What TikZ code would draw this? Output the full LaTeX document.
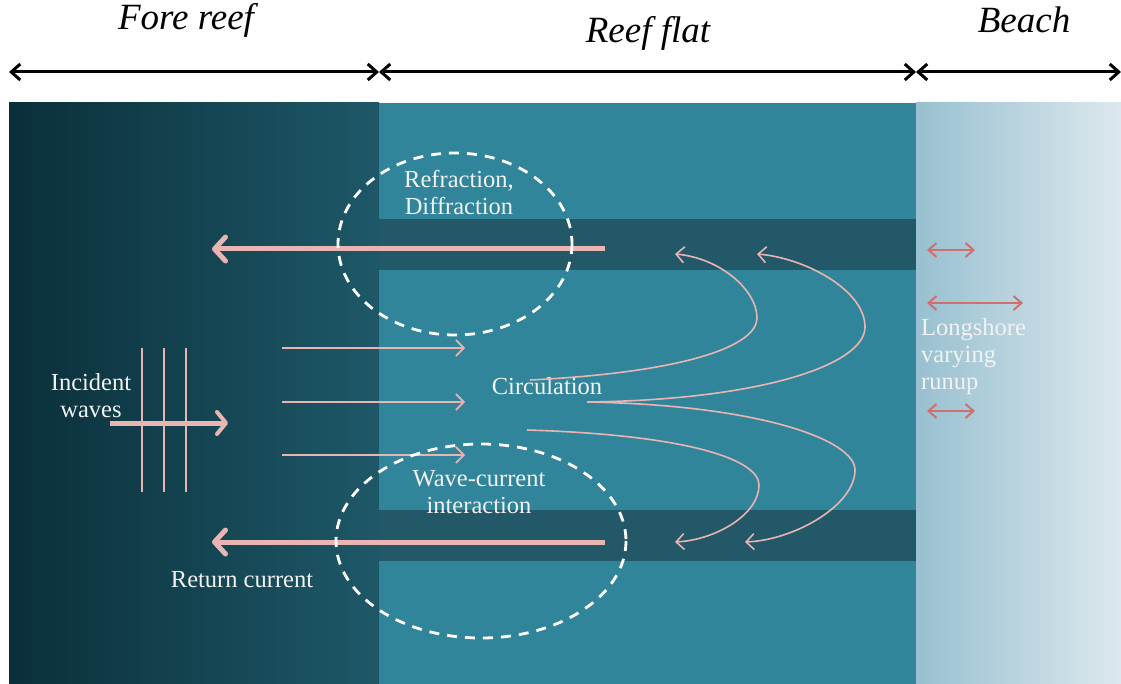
\documentclass[tikz,border=0pt]{standalone}
\usepackage{fontspec}
\setmainfont{Liberation Serif}
\usetikzlibrary{arrows.meta}
\definecolor{foreL}{HTML}{0A2F3A}
\definecolor{foreR}{HTML}{1E5868}
\definecolor{flat}{HTML}{31859B}
\definecolor{chan}{HTML}{225868}
\definecolor{beachL}{HTML}{98C0D0}
\definecolor{beachR}{HTML}{DDE8EE}
\definecolor{pinkA}{HTML}{E8B5B3}
\definecolor{redA}{HTML}{D0706E}
\definecolor{txt}{HTML}{F2F2F2}
\tikzset{
  zone/.style={line width=3pt,draw=black,{Straight Barb[length=9pt,width=16pt,line width=3pt]}-{Straight Barb[length=9pt,width=16pt,line width=3pt]}},
  zonelabel/.style={font=\fontsize{37}{40}\selectfont\itshape,text=black,inner sep=0pt},
  lbl/.style={font=\fontsize{24.5}{27}\selectfont,text=txt,align=center,inner sep=0pt},
  thickarr/.style={draw=pinkA,line width=5pt,-{Straight Barb[length=11pt,width=24pt,line width=5pt,round]}},
  thinarr/.style={draw=pinkA,line width=1.6pt,-{Straight Barb[length=8pt,width=16pt,line width=1.6pt]}},
  curvearr/.style={draw=pinkA,line width=1.6pt,-{Straight Barb[length=8pt,width=16pt,line width=1.6pt]}},
  wavecrest/.style={draw=pinkA,line width=1.7pt},
  runarr/.style={draw=redA,line width=2pt,{Straight Barb[length=8pt,width=14pt,line width=2pt]}-{Straight Barb[length=8pt,width=14pt,line width=2pt]}},
  zoneell/.style={draw=white,line width=2.8pt,dash pattern=on 10pt off 8pt}
}
\begin{document}
\begin{tikzpicture}[x=1pt,y=-1pt]
\useasboundingbox (0,0) rectangle (1121,684);
\fill[white] (0,0) rectangle (1121,684);
% zones
\shade[left color=foreL,right color=foreR] (9,103) rectangle (379,684);
\fill[flat] (379,103) rectangle (916,684);
\shade[left color=beachL,right color=beachR] (916,103) rectangle (1121,684);
% channels
\fill[chan] (379,219) rectangle (916,270);
\fill[chan] (379,510) rectangle (916,561);
% zone arrows
\coordinate (z0) at (9,72);
\coordinate (z1) at (379,72);
\coordinate (z2) at (916,72);
\coordinate (z3) at (1121,72);
\draw[zone] (z0) -- (z1);
\draw[zone] (z1) -- (z2);
\draw[zone] (z2) -- (z3);
\node[zonelabel] (fore) at (186,20) {Fore reef};
\node[zonelabel] (flatl) at (648,33) {Reef flat};
\node[zonelabel] (beach) at (1024,20) {Beach};
% incident waves
\foreach \xx/\nm in {142/c1,164/c2,186/c3}{
  \coordinate (\nm t) at (\xx,348);
  \coordinate (\nm b) at (\xx,492);
  \draw[wavecrest] (\nm t) -- (\nm b);
}
\coordinate (incS) at (110,423);
\coordinate (incE) at (228,423);
\draw[draw=pinkA,line width=5pt,-{Straight Barb[length=9pt,width=22pt,line width=4pt,round]}] (incS) -- (incE);
\node[lbl] (inc) at (91,396) {Incident\\waves};
% thin arrows
\foreach \yy/\nm in {348/t1,402/t2,455/t3}{
  \coordinate (\nm s) at (282,\yy);
  \coordinate (\nm e) at (465,\yy);
  \draw[thinarr] (\nm s) -- (\nm e);
}
% return currents
\coordinate (r1s) at (605,249);
\coordinate (r1e) at (212,249);
\coordinate (r2s) at (605,542);
\coordinate (r2e) at (212,542);
\draw[thickarr] (r1s) -- (r1e);
\draw[thickarr] (r2s) -- (r2e);
\node[lbl] (ret) at (242,580) {Return current};
% ellipses
\draw[zoneell] (455,244) ellipse [x radius=117,y radius=91];
\draw[zoneell] (481,541) ellipse [x radius=145,y radius=97];
\node[lbl] (refr) at (459,192) {Refraction,\\Diffraction};
\node[lbl] (wci) at (479,492) {Wave-current\\interaction};
\node[lbl] (circ) at (547,386) {Circulation};
% circulation curves
\coordinate (ca) at (530,380);
\coordinate (cb) at (587,402);
\coordinate (cd) at (527,430);
\coordinate (ea) at (675,254);
\coordinate (eb) at (757,254);
\coordinate (ec) at (745,542);
\coordinate (ed) at (675,542);
\draw[curvearr] (ca) .. controls (690,372) and (757,345) .. (757,318) .. controls (757,290) and (720,258) .. (ea);
\draw[curvearr] (cb) .. controls (760,400) and (865,365) .. (865,327) .. controls (865,290) and (805,258) .. (eb);
\draw[curvearr] (cb) .. controls (760,405) and (855,440) .. (855,470) .. controls (855,505) and (795,540) .. (ec);
\draw[curvearr] (cd) .. controls (690,435) and (759,460) .. (759,485) .. controls (759,515) and (715,540) .. (ed);
% runup arrows
\coordinate (ru1a) at (927,250);
\coordinate (ru1b) at (975,250);
\coordinate (ru2a) at (927,303);
\coordinate (ru2b) at (1023,303);
\coordinate (ru3a) at (927,411);
\coordinate (ru3b) at (975,411);
\draw[runarr] (ru1a) -- (ru1b);
\draw[runarr] (ru2a) -- (ru2b);
\draw[runarr] (ru3a) -- (ru3b);
\node[lbl,align=left,anchor=west] (lsr) at (921,357) {Longshore\\varying\\runup};
\end{tikzpicture}
\end{document}
